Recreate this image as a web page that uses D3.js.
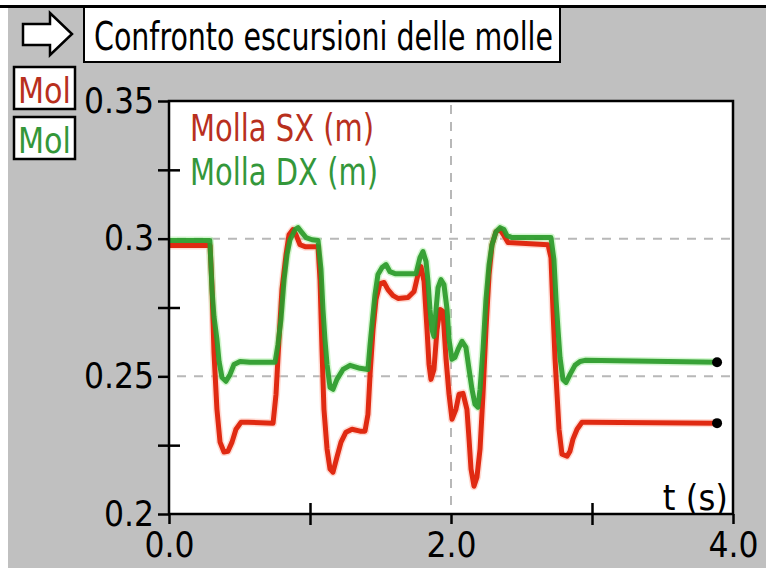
<!DOCTYPE html>
<html><head><meta charset="utf-8">
<script src="https://cdn.jsdelivr.net/npm/d3@7"></script>
<style>
html,body{margin:0;padding:0;background:#fff;}
svg text{font-family:"Liberation Sans Narrow","Arial Narrow","DejaVu Sans Condensed",sans-serif;}
</style></head>
<body>
<svg id="c" width="766" height="568"></svg>
<script>
// ---- data ----
const title = "Confronto escursioni delle molle";
const seriesNames = ["Molla SX (m)", "Molla DX (m)"];
const xLabel = "t (s)";
const xTickMajor = [0, 2, 4];
const xTickMinor = [1, 3];
const xTickLabels = ["0.0", "2.0", "4.0"];
const yTickMajor = [0.35, 0.3, 0.25, 0.2];
const yTickMinor = [0.325, 0.275, 0.225];
const yTickLabels = ["0.35", "0.3", "0.25", "0.2"];

const tSX = [0,0.291,0.305,0.319,0.340,0.362,0.390,0.418,0.447,0.475,0.511,0.560,0.738,0.759,0.780,0.801,0.830,0.851,0.879,0.901,0.929,0.965,1.057,1.071,1.085,1.099,1.121,1.142,1.163,1.191,1.220,1.255,1.298,1.355,1.390,1.411,1.426,1.447,1.468,1.496,1.525,1.553,1.589,1.624,1.695,1.738,1.766,1.787,1.809,1.830,1.844,1.858,1.879,1.901,1.922,1.943,1.965,1.986,2.007,2.035,2.057,2.085,2.113,2.128,2.142,2.163,2.184,2.206,2.227,2.248,2.270,2.291,2.319,2.348,2.376,2.404,2.688,2.709,2.723,2.738,2.752,2.766,2.787,2.823,2.844,2.865,2.894,2.929,2.972,3.887];
const vSX = [0.2975,0.2975,0.2826,0.2587,0.2380,0.2261,0.2225,0.2228,0.2261,0.2308,0.2333,0.2333,0.2330,0.2435,0.2634,0.2815,0.2942,0.3014,0.3033,0.3014,0.2978,0.2971,0.2971,0.2851,0.2598,0.2380,0.2236,0.2163,0.2152,0.2207,0.2261,0.2297,0.2308,0.2301,0.2301,0.2362,0.2507,0.2670,0.2779,0.2837,0.2841,0.2815,0.2793,0.2783,0.2786,0.2808,0.2870,0.2899,0.2844,0.2670,0.2543,0.2489,0.2525,0.2670,0.2743,0.2736,0.2562,0.2435,0.2344,0.2380,0.2435,0.2438,0.2380,0.2272,0.2163,0.2101,0.2134,0.2236,0.2435,0.2670,0.2870,0.2978,0.3025,0.3033,0.3011,0.2986,0.2978,0.2931,0.2743,0.2562,0.2435,0.2308,0.2217,0.2210,0.2228,0.2272,0.2308,0.2333,0.2333,0.2330];

const tDX = [0,0.290,0.305,0.319,0.340,0.355,0.376,0.404,0.433,0.461,0.504,0.574,0.752,0.773,0.794,0.816,0.837,0.858,0.894,0.915,0.943,0.972,1.014,1.057,1.078,1.092,1.106,1.121,1.142,1.163,1.191,1.234,1.284,1.355,1.411,1.426,1.440,1.461,1.482,1.511,1.539,1.567,1.603,1.752,1.780,1.801,1.823,1.837,1.851,1.865,1.879,1.894,1.908,1.929,1.950,1.972,1.986,2.007,2.028,2.050,2.078,2.106,2.128,2.149,2.170,2.191,2.206,2.227,2.248,2.270,2.291,2.319,2.348,2.376,2.397,2.433,2.709,2.730,2.745,2.759,2.773,2.794,2.816,2.844,2.879,2.915,2.950,3.887];
const vDX = [0.2993,0.2993,0.2815,0.2717,0.2634,0.2554,0.2496,0.2482,0.2507,0.2543,0.2554,0.2551,0.2551,0.2616,0.2707,0.2851,0.2942,0.2996,0.3033,0.3040,0.3022,0.3004,0.2996,0.2993,0.2888,0.2743,0.2634,0.2543,0.2460,0.2453,0.2489,0.2525,0.2540,0.2529,0.2525,0.2616,0.2688,0.2797,0.2870,0.2895,0.2906,0.2880,0.2873,0.2873,0.2931,0.2953,0.2917,0.2844,0.2743,0.2670,0.2645,0.2743,0.2822,0.2851,0.2833,0.2743,0.2634,0.2562,0.2569,0.2598,0.2627,0.2605,0.2525,0.2453,0.2399,0.2388,0.2453,0.2598,0.2779,0.2906,0.2978,0.3025,0.3040,0.3033,0.3011,0.3004,0.3004,0.2924,0.2779,0.2670,0.2569,0.2489,0.2478,0.2507,0.2540,0.2554,0.2558,0.2551];

// ---- drawing ----
const svg = d3.select("#c");
const L = 169, R = 733, T = 101, B = 514;
const x = d3.scaleLinear().domain([0, 4]).range([L, R]);
const y = d3.scaleLinear().domain([0.2, 0.35]).range([B, T]);

// background
svg.append("rect").attr("x", 8).attr("y", 7).attr("width", 758).attr("height", 561).attr("fill", "#c0c0c0");
svg.append("line").attr("x1", 0).attr("x2", 766).attr("y1", 6.5).attr("y2", 6.5).attr("stroke", "#000").attr("stroke-width", 3);

// arrow icon
svg.append("path")
  .attr("d", "M23,24 L50,24 L50,13 L72,34 L50,55 L50,45 L23,45 Z")
  .attr("fill", "#fff").attr("stroke", "#000").attr("stroke-width", 2.5);

// title box
svg.append("rect").attr("x", 84).attr("y", 7).attr("width", 476).attr("height", 55)
  .attr("fill", "#fff").attr("stroke", "#000").attr("stroke-width", 2);
svg.append("text").attr("x", 94).attr("y", 50).attr("font-size", 39)
  .attr("textLength", 459).attr("lengthAdjust", "spacingAndGlyphs")
  .attr("fill", "#000").text(title);

// small legend boxes
const colors = ["#e02a12", "#2a9a2a"];
const textColors = ["#b8301e", "#34973a"];
[0, 1].forEach(i => {
  const by = i === 0 ? 67 : 117;
  svg.append("rect").attr("x", 14).attr("y", by).attr("width", 61).attr("height", 42)
    .attr("fill", "#fff").attr("stroke", "#000").attr("stroke-width", 2.5);
  svg.append("text").attr("x", 18).attr("y", by + 36).attr("font-size", 35)
    .attr("textLength", 53).attr("lengthAdjust", "spacingAndGlyphs")
    .attr("fill", textColors[i]).text(seriesNames[i].slice(0, 3));
});

// plot area
svg.append("rect").attr("x", L).attr("y", T).attr("width", R - L).attr("height", B - T).attr("fill", "#fff");

// grid
const grid = svg.append("g").attr("stroke", "#b8b8b8").attr("stroke-width", 2).attr("stroke-dasharray", "9,8");
[0.3, 0.25].forEach(v => grid.append("line").attr("x1", L + 8).attr("x2", R).attr("y1", y(v)).attr("y2", y(v)));
grid.append("line").attr("x1", x(2)).attr("x2", x(2)).attr("y1", T + 4).attr("y2", B);

// series
const line = d3.line().x(d => x(d[0])).y(d => y(d[1]));
const dSX = tSX.map((t, i) => [t, vSX[i]]);
const dDX = tDX.map((t, i) => [t, vDX[i]]);
const halo = ["#ffb8a8", "#a8f0a0"];
[[dSX, 0], [dDX, 1]].forEach(([d, i]) => {
  svg.append("path").datum(d).attr("d", line).attr("fill", "none")
    .attr("stroke", halo[i]).attr("stroke-width", 8).attr("stroke-opacity", 0.5)
    .attr("stroke-linejoin", "round");
});
svg.append("path").datum(dSX).attr("d", line).attr("fill", "none")
  .attr("stroke", colors[0]).attr("stroke-width", 5).attr("stroke-linejoin", "round");
svg.append("path").datum(dDX).attr("d", line).attr("fill", "none")
  .attr("stroke", colors[1]).attr("stroke-width", 5).attr("stroke-linejoin", "round").attr("stroke-opacity", 0.92);

// end dots
[dSX, dDX].forEach(d => {
  const p = d[d.length - 1];
  svg.append("circle").attr("cx", x(p[0])).attr("cy", y(p[1])).attr("r", 5).attr("fill", "#000");
});

// legend inside plot
svg.append("text").attr("x", 190).attr("y", 141).attr("font-size", 37)
  .attr("textLength", 184).attr("lengthAdjust", "spacingAndGlyphs")
  .attr("fill", textColors[0]).text(seriesNames[0]);
svg.append("text").attr("x", 190).attr("y", 185).attr("font-size", 37)
  .attr("textLength", 188).attr("lengthAdjust", "spacingAndGlyphs")
  .attr("fill", textColors[1]).text(seriesNames[1]);

// frame
svg.append("rect").attr("x", L).attr("y", T).attr("width", R - L).attr("height", B - T)
  .attr("fill", "none").attr("stroke", "#000").attr("stroke-width", 2.5);

// axes
const fmtY = v => yTickLabels[yTickMajor.indexOf(v)];
const fmtX = v => xTickLabels[xTickMajor.indexOf(v)];
const yAxis = svg.append("g").attr("transform", `translate(${L},0)`)
  .call(d3.axisLeft(y).tickValues(yTickMajor).tickSize(11).tickPadding(4).tickFormat(fmtY));
const yMinor = svg.append("g").attr("transform", `translate(${L + 11},0)`)
  .call(d3.axisLeft(y).tickValues(yTickMinor).tickSize(22).tickFormat(""));
const xAxis = svg.append("g").attr("transform", `translate(0,${B})`)
  .call(d3.axisBottom(x).tickValues(xTickMajor).tickSize(10).tickPadding(8).tickFormat(fmtX));
const xMinor = svg.append("g").attr("transform", `translate(0,${B - 11})`)
  .call(d3.axisBottom(x).tickValues(xTickMinor).tickSize(22).tickFormat(""));
[yAxis, yMinor, xAxis, xMinor].forEach(g => {
  g.select(".domain").remove();
  g.selectAll(".tick line").attr("stroke", "#000").attr("stroke-width", 2.5);
  g.selectAll(".tick text").attr("fill", "#000").attr("font-size", 35)
    .style("font-family", '"Liberation Sans Narrow","Arial Narrow","DejaVu Sans Condensed",sans-serif');
});

// x label
svg.append("text").attr("x", 728).attr("y", 510).attr("font-size", 36)
  .attr("text-anchor", "end").attr("fill", "#000").text(xLabel);
</script>
</body></html>
